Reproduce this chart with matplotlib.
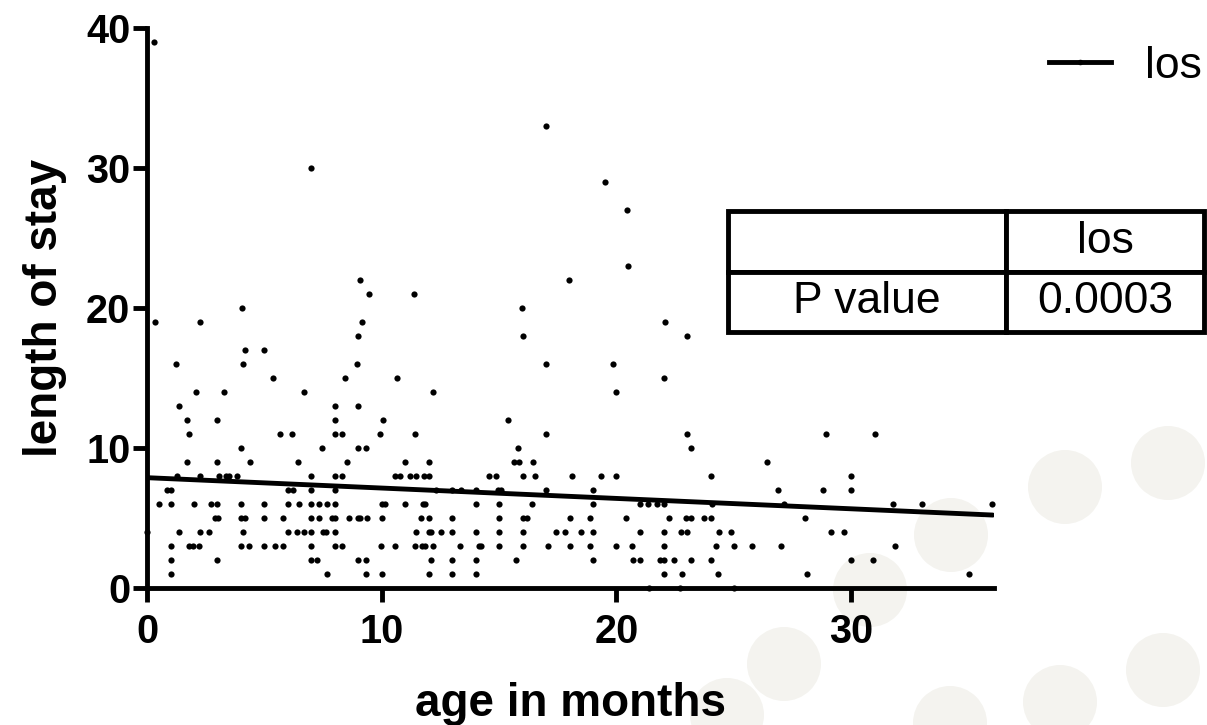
import numpy as np
import matplotlib
matplotlib.use("Agg")
import matplotlib.pyplot as plt
from matplotlib.lines import Line2D
from matplotlib.patches import Circle

plt.rcParams["font.family"] = ["Liberation Sans", "DejaVu Sans"]

# --- data: length of stay (integer days) grouped by value, age in months per point ---
los_groups = {
    39: [0.3],
    33: [17.0],
    30: [7.0],
    29: [19.53],
    27: [20.44],
    23: [20.48],
    22: [9.07, 18.0],
    21: [9.47, 11.37],
    20: [4.06, 16.0],
    19: [0.33, 2.27, 9.16, 22.09],
    18: [9.0, 16.02, 23.01],
    17: [4.17, 5.0],
    16: [1.22, 4.08, 8.93, 17.01, 19.87],
    15: [5.36, 8.46, 10.66, 22.02],
    14: [2.09, 3.27, 6.68, 12.17, 20.01],
    13: [1.36, 8.02, 9.0],
    12: [1.71, 3.0, 8.02, 10.04, 15.38],
    11: [1.78, 5.67, 6.17, 8.02, 8.32, 9.92, 11.43, 17.01, 23.01, 28.94, 31.02],
    10: [4.01, 7.46, 9.01, 9.32, 15.83, 23.18],
    9: [1.71, 3.0, 4.39, 6.42, 8.53, 11.0, 12.03, 15.66, 15.86, 16.47, 26.44],
    8: [1.29, 2.27, 3.07, 3.37, 3.5, 3.82, 7.01, 8.02, 8.32, 10.55, 10.78, 11.22,
        11.47, 11.81, 12.03, 14.56, 14.87, 16.02, 16.53, 18.11, 19.37, 20.01, 24.02, 30.02],
    7: [0.87, 1.01, 6.0, 6.24, 7.01, 8.02, 12.31, 13.02, 13.39, 14.02, 14.98, 15.08,
        17.01, 19.0, 26.91, 28.8, 30.02],
    6: [0.53, 1.01, 2.0, 2.73, 3.0, 4.01, 5.0, 6.0, 6.47, 6.98, 7.33, 7.69, 8.02, 10.01,
        10.15, 11.0, 11.76, 11.86, 14.02, 15.0, 16.4, 19.0, 21.0, 21.34, 21.73, 22.02,
        24.07, 27.14, 31.8, 33.03, 36.03],
    5: [2.9, 3.04, 4.01, 4.19, 5.0, 5.81, 6.98, 7.33, 7.87, 8.02, 8.63, 8.98, 9.08, 9.37,
        10.01, 11.67, 12.03, 13.02, 15.0, 16.02, 16.19, 18.01, 18.89, 20.4, 22.23, 22.99,
        23.18, 23.72, 24.02, 28.03],
    4: [0.0, 1.38, 2.27, 2.66, 4.08, 6.0, 6.38, 6.68, 7.01, 7.48, 7.62, 8.02, 11.47, 12.03,
        12.11, 12.52, 13.0, 14.02, 15.0, 16.02, 17.44, 17.8, 18.51, 19.0, 21.01, 22.02,
        22.77, 23.01, 24.38, 24.89, 29.14, 29.69],
    3: [1.01, 1.8, 1.98, 2.2, 4.01, 4.34, 5.0, 5.47, 5.81, 7.01, 8.02, 8.32, 9.96, 10.58,
        11.43, 11.71, 11.86, 12.17, 13.32, 14.13, 14.23, 15.0, 16.02, 17.07, 18.01, 18.88,
        20.01, 20.67, 22.02, 24.26, 25.02, 25.8, 27.02, 31.86],
    2: [1.01, 3.0, 7.01, 7.26, 9.01, 9.32, 12.11, 13.02, 14.02, 15.74, 19.0, 20.71, 21.01,
        21.88, 22.05, 22.44, 23.18, 24.02, 30.02, 30.95],
    1: [1.01, 7.68, 9.32, 10.01, 12.03, 13.02, 14.02, 22.02, 22.79, 24.35, 28.14, 35.02],
    0: [21.39, 22.73, 25.03],
}
age_months = [a for v, ages in los_groups.items() for a in ages]
length_of_stay = [v for v, ages in los_groups.items() for a in ages]

# regression line end points
fit_x = [0.0, 36.05]
fit_y = [7.88, 5.21]

table_cells = [["", "los"], ["P value", "0.0003"]]
x_ticks = [0, 10, 20, 30]
y_ticks = [0, 10, 20, 30, 40]

# faint background blobs (pixel centres)
blob_x = [951, 870, 1065, 1168, 784, 1060, 1163, 727, 950]
blob_y = [535, 590, 487, 463, 664, 702, 670, 715, 723]

# --- figure ---
W, H = 1207, 725
fig = plt.figure(figsize=(W / 100, H / 100), dpi=100)
fig.patch.set_facecolor("white")

for bx, by in zip(blob_x, blob_y):
    fig.add_artist(Circle((bx / 100, (H - by) / 100), 0.37, transform=fig.dpi_scale_trans,
                          facecolor="#f4f3ef", edgecolor="none", zorder=-5))

ax = fig.add_axes([147 / W, (H - 588) / H, (994 - 147) / W, (588 - 28) / H])
ax.patch.set_facecolor("none")

ax.scatter(age_months, length_of_stay, s=20, c="black", linewidths=0, clip_on=False, zorder=3)
ax.plot(fit_x, fit_y, color="black", lw=3.5, solid_capstyle="round", zorder=4)

ax.set_xlim(0, 36.1)
ax.set_ylim(0, 40)
ax.set_xticks(x_ticks)
ax.set_yticks(y_ticks)

for s in ["top", "right"]:
    ax.spines[s].set_visible(False)
for s in ["left", "bottom"]:
    ax.spines[s].set_linewidth(3.5)
    ax.spines[s].set_capstyle("projecting")

ax.tick_params(axis="both", length=10, width=3.5, labelsize=28.5, direction="out")
ax.tick_params(axis="x", pad=8)
ax.tick_params(axis="y", pad=2)
for lbl in ax.get_xticklabels() + ax.get_yticklabels():
    lbl.set_fontweight("bold")

ax.set_xlabel("age in months", fontsize=33, fontweight="bold", labelpad=22)
ax.set_ylabel("length of stay", fontsize=33, fontweight="bold", labelpad=14)

# legend
handle = Line2D([], [], color="black", lw=3.5, marker="o", markersize=3)
fig.legend([handle], ["los"], loc="center left", bbox_to_anchor=(1049 / W, 1 - 66 / H),
           frameon=False, borderpad=0, borderaxespad=0, handlelength=1.4,
           handletextpad=0.75, fontsize=32)

# P value table
tax = fig.add_axes([728 / W, (H - 332) / H, 476 / W, 121 / H])
tax.axis("off")
tbl = tax.table(cellText=table_cells, colWidths=[278 / 476, 198 / 476],
                cellLoc="center", bbox=[0, 0, 1, 1])
tbl.auto_set_font_size(False)
tbl.set_fontsize(32)
for cell in tbl.get_celld().values():
    cell.set_linewidth(3.5)
    cell.set_edgecolor("black")

fig.savefig("out.png", dpi=100)
